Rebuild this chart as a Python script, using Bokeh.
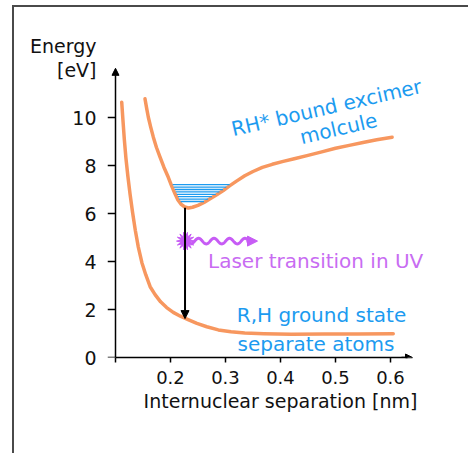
import numpy as np
from bokeh.plotting import figure
from bokeh.models import Label, Arrow, NormalHead, FixedTicker
from bokeh.embed import file_html
from bokeh.resources import INLINE

# ---------------- data ----------------
ground_x = [0.1113, 0.1135, 0.116, 0.119, 0.1225, 0.1265, 0.131, 0.136, 0.1415, 0.148,
            0.155, 0.163, 0.172, 0.182, 0.193, 0.205, 0.218, 0.232, 0.248, 0.266,
            0.287, 0.31, 0.335, 0.37, 0.42, 0.48, 0.54, 0.605]
ground_e = [10.64, 9.9, 9.1, 8.3, 7.55, 6.8, 6.05, 5.3, 4.6, 3.95,
            3.45, 2.95, 2.62, 2.32, 2.08, 1.88, 1.72, 1.58, 1.42, 1.28,
            1.15, 1.07, 1.02, 0.99, 0.97, 0.975, 0.98, 0.99]

excited_x = [0.1536, 0.1565, 0.1597, 0.164, 0.1688, 0.1745, 0.181, 0.188, 0.196, 0.202,
             0.2082, 0.2135, 0.2195, 0.226, 0.2325, 0.24, 0.25, 0.261, 0.272, 0.284,
             0.296, 0.308, 0.32, 0.335, 0.35, 0.367, 0.385, 0.405, 0.425, 0.45,
             0.475, 0.5, 0.525, 0.55, 0.575, 0.603]
excited_e = [10.78, 10.4, 10.01, 9.6, 9.18, 8.75, 8.35, 7.93, 7.51, 7.15,
             6.82, 6.56, 6.38, 6.27, 6.23, 6.26, 6.34, 6.46, 6.61, 6.78,
             6.96, 7.16, 7.35, 7.57, 7.75, 7.92, 8.05, 8.17, 8.28, 8.42,
             8.57, 8.72, 8.84, 8.96, 9.07, 9.18]

vib_e = [7.2, 7.1, 7.0, 6.9, 6.8, 6.7, 6.6, 6.5]
vib_left = [0.204, 0.206, 0.208, 0.2097, 0.2116, 0.2136, 0.2155, 0.2185]
vib_right = [0.3075, 0.3014, 0.2954, 0.289, 0.2823, 0.2754, 0.2683, 0.2609]

transition_x = 0.2264
transition_top = 6.24
transition_bottom = 1.62

x_ticks = [0.1, 0.2, 0.3, 0.4, 0.5, 0.6]
x_tick_labels = ["", "0.2", "0.3", "0.4", "0.5", "0.6"]
y_ticks = [0, 2, 4, 6, 8, 10]
y_title_pos = [11.96, 13.0]
y_title_text = ["[eV]", "Energy"]
x_title = "Internuclear separation [nm]"

# ---------------- styling ----------------
ORANGE = "#F7975F"
BLUE = "#1C9BF0"
PURPLE = "#C75CF5"
PURPLE_TXT = "#C86CF2"
FONT = "DejaVu Sans"

W, H = 456, 448
ML, MB, MR = 93, 98, 17
PX_X = 550.0   # pixels per nm
PX_Y = 24.0    # pixels per eV
Y_AXIS_AT = 0.1
TICK_LEN = 8   # px
X0 = Y_AXIS_AT - TICK_LEN / PX_X
X1 = X0 + (W - ML - MR) / PX_X
Y1 = (H - MB) / PX_Y

p = figure(width=W, height=H, x_range=(X0, X1), y_range=(0, Y1),
           output_backend="svg", toolbar_location=None,
           min_border_left=ML, min_border_bottom=MB, min_border_top=0, min_border_right=MR,
           styles={"margin-left": "12px", "margin-top": "5px",
                   "border-left": "2px solid #4a4a4a", "border-top": "2px solid #4a4a4a"})
p.grid.visible = False
p.outline_line_color = None
p.background_fill_color = "white"
p.border_fill_color = "white"

# x axis (real axis at the bottom of the frame)
p.xaxis.ticker = FixedTicker(ticks=x_ticks)
p.xaxis.major_label_overrides = {t: l for t, l in zip(x_ticks, x_tick_labels)}
p.xaxis.bounds = (Y_AXIS_AT, 0.63)
p.xaxis.axis_line_color = "black"
p.xaxis.axis_line_width = 1.5
p.xaxis.major_tick_line_color = "black"
p.xaxis.major_tick_line_width = 1.5
p.xaxis.major_tick_out = 5
p.xaxis.major_tick_in = 0
p.xaxis.minor_tick_line_color = None
p.xaxis.major_label_text_font = FONT
p.xaxis.major_label_text_font_size = "18px"
p.xaxis.major_label_text_color = "#111111"
p.xaxis.major_label_standoff = 8
p.xaxis.axis_label = x_title
p.xaxis.axis_label_text_font = FONT
p.xaxis.axis_label_text_font_size = "19px"
p.xaxis.axis_label_text_font_style = "normal"
p.xaxis.axis_label_text_color = "#111111"
p.xaxis.axis_label_standoff = 3

# y axis: carries the labels (numbers and the "Energy [eV]" title);
# its line and tick marks are drawn at x = 0.1 inside the frame
p.yaxis.ticker = FixedTicker(ticks=y_ticks + y_title_pos)
p.yaxis.major_label_overrides = {t: l for t, l in zip(y_title_pos, y_title_text)}
p.yaxis.axis_line_color = None
p.yaxis.major_tick_line_color = None
p.yaxis.major_tick_out = 0
p.yaxis.major_tick_in = 0
p.yaxis.minor_tick_line_color = None
p.yaxis.minor_tick_out = 0
p.yaxis.minor_tick_in = 0
p.yaxis.major_label_text_font = FONT
p.yaxis.major_label_text_font_size = "19px"
p.yaxis.major_label_text_color = "#111111"
p.yaxis.major_label_standoff = 11

p.segment(x0=[X0] * len(y_ticks), y0=y_ticks, x1=[Y_AXIS_AT] * len(y_ticks), y1=y_ticks,
          line_color="black", line_width=1.5)
p.add_layout(Arrow(end=NormalHead(size=7, fill_color="black", line_color="black"),
                   x_start=Y_AXIS_AT, y_start=0, x_end=Y_AXIS_AT, y_end=12.05,
                   line_color="black", line_width=1.5))
p.add_layout(Arrow(end=NormalHead(size=7, fill_color="black", line_color="black"),
                   x_start=0.62, y_start=0, x_end=0.64, y_end=0,
                   line_color="black", line_width=1.5))

# curves
p.line(ground_x, ground_e, line_color=ORANGE, line_width=3.5, line_join="round", line_cap="round")
p.line(excited_x, excited_e, line_color=ORANGE, line_width=3.5, line_join="round", line_cap="round")

# vibrational levels
p.segment(x0=vib_left, y0=vib_e, x1=vib_right, y1=vib_e, line_color=BLUE, line_width=1.3)

# transition arrow
p.add_layout(Arrow(end=NormalHead(size=8, fill_color="black", line_color="black"),
                   x_start=transition_x, y_start=transition_top,
                   x_end=transition_x, y_end=transition_bottom,
                   line_color="black", line_width=2))

# photon: starburst + wavy arrow (decoration, built in pixel offsets)
star_cx, star_cy = 0.2273, 4.85
n_sp = 14
ang = np.linspace(0, 2 * np.pi, 2 * n_sp, endpoint=False)
rad = np.where(np.arange(2 * n_sp) % 2 == 0, 9.0, 4.5)
p.patch(star_cx + rad * np.cos(ang) / PX_X, star_cy + rad * np.sin(ang) / PX_Y,
        fill_color=PURPLE, line_color=PURPLE)
wpx = np.linspace(0, 57, 200)
wave_x = 0.2364 + wpx / PX_X
wave_y = star_cy + 2.8 * np.cos(2 * np.pi * (wpx - 8) / 15.5) / PX_Y
p.line(wave_x, wave_y, line_color=PURPLE, line_width=3)
p.add_layout(Arrow(end=NormalHead(size=10, fill_color=PURPLE, line_color=PURPLE),
                   x_start=0.338, y_start=star_cy, x_end=0.3582, y_end=star_cy,
                   line_color=PURPLE, line_width=3))

# texts
def lab(x, y, text, color="black", size="20px", align="center", angle=0):
    p.add_layout(Label(x=x, y=y, text=text, text_color=color, text_font=FONT,
                       text_font_size=size, text_align=align, text_baseline="middle",
                       angle=angle, angle_units="deg"))

lab(0.4836, 10.41, "RH* bound excimer", color=BLUE, angle=13)
lab(0.5055, 9.54, "molcule", color=BLUE, angle=13)
lab(0.2682, 4.04, "Laser transition in UV", color=PURPLE_TXT, align="left")
lab(0.4745, 1.77, "R,H ground state", color=BLUE)
lab(0.4645, 0.56, "separate atoms", color=BLUE)

open("out.html", "w").write(file_html(p, INLINE))
